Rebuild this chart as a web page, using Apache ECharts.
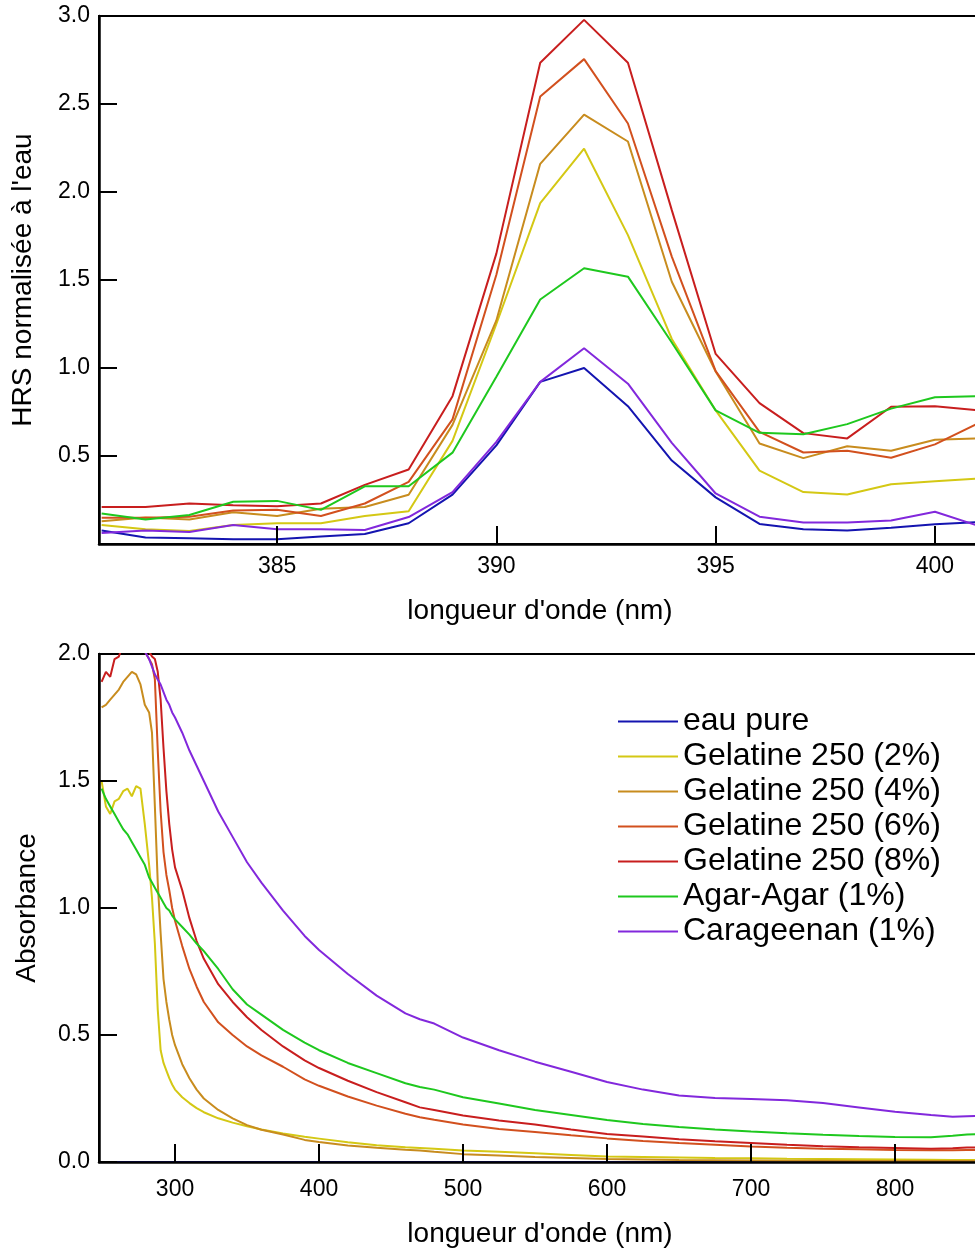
<!DOCTYPE html>
<html>
<head>
<meta charset="utf-8">
<script src="https://cdn.jsdelivr.net/npm/echarts@6/dist/echarts.min.js"></script>
<style>
html,body{margin:0;padding:0;background:#fff;}
#chart{width:975px;height:1249px;}
</style>
</head>
<body>
<div id="chart"></div>
<script>
// ---------- Top chart: HRS normalised to water ----------
const hrsWavelengths = [381,382,383,384,385,386,387,388,389,390,391,392,393,394,395,396,397,398,399,400,401];
const hrsEau   = [0.077,0.037,0.033,0.027,0.027,0.043,0.057,0.118,0.281,0.56,0.921,1.0,0.783,0.474,0.265,0.114,0.084,0.077,0.092,0.112,0.125];
const hrsGel2  = [0.108,0.084,0.074,0.108,0.118,0.118,0.159,0.186,0.586,1.25,1.937,2.246,1.755,1.165,0.759,0.417,0.295,0.281,0.34,0.356,0.372];
const hrsGel4  = [0.129,0.15,0.139,0.18,0.159,0.2,0.21,0.28,0.677,1.27,2.16,2.44,2.287,1.49,0.98,0.571,0.488,0.555,0.53,0.592,0.60];
const hrsGel6  = [0.149,0.149,0.155,0.19,0.194,0.159,0.23,0.353,0.708,1.53,2.543,2.755,2.389,1.633,0.982,0.637,0.52,0.53,0.49,0.566,0.688];
const hrsGel8  = [0.21,0.21,0.23,0.22,0.214,0.23,0.336,0.423,0.84,1.65,2.734,2.978,2.734,1.897,1.08,0.80,0.63,0.60,0.78,0.783,0.759];
const hrsAgar  = [0.173,0.139,0.165,0.24,0.245,0.194,0.328,0.328,0.519,0.95,1.389,1.567,1.519,1.145,0.759,0.632,0.624,0.681,0.769,0.834,0.84];
const hrsCarag = [0.063,0.077,0.068,0.108,0.084,0.084,0.08,0.153,0.295,0.58,0.921,1.112,0.911,0.575,0.287,0.155,0.122,0.122,0.134,0.183,0.102];
const hrsXTicks = [385,390,395,400];

// ---------- Bottom chart: absorbance ----------
const absWavelengths = [249,252,255,258,261,264,267,270,273,276,
  279,282,284,286,288,290,292,294,296,298,
  300,305,310,315,320,330,340,350,360,375,
  390,400,420,440,460,470,480,500,525,550,
  575,600,625,650,675,700,725,750,775,800,
  825,840,850,860];
const absEau = [0,0,0,0,0,0,0,0,0,0,
  0,0,0,0,0,0,0,0,0,0,
  0,0,0,0,0,0,0,0,0,0,
  0,0,0,0,0,0,0,0,0,0,
  0,0,0,0,0,0,0,0,0,0,
  0,0,0,0];
const absGel2 = [1.50,1.40,1.37,1.42,1.43,1.46,1.47,1.44,1.48,1.47,
  1.33,1.17,1.04,0.86,0.60,0.44,0.39,0.36,0.33,0.305,
  0.285,0.255,0.232,0.212,0.196,0.172,0.155,0.141,0.128,0.112,
  0.099,0.092,0.078,0.066,0.058,0.055,0.052,0.045,0.04,0.034,
  0.028,0.022,0.02,0.018,0.016,0.015,0.013,0.012,0.011,0.01,
  0.009,0.008,0.008,0.008];
const absGel4 = [1.79,1.80,1.82,1.84,1.86,1.89,1.91,1.93,1.92,1.88,
  1.80,1.77,1.69,1.40,1.10,0.90,0.72,0.63,0.56,0.50,
  0.46,0.385,0.33,0.285,0.25,0.205,0.172,0.145,0.127,0.108,
  0.087,0.079,0.065,0.056,0.048,0.045,0.04,0.031,0.026,0.02,
  0.016,0.012,0.01,0.008,0.007,0.006,0.005,0.005,0.004,0.004,
  0.004,0.004,0.004,0.004];
const absGel6 = [2.04,2.05,2.03,2.06,2.05,2.04,2.06,2.05,2.04,2.03,
  2.01,1.98,1.96,1.90,1.62,1.38,1.22,1.13,1.07,1.00,
  0.95,0.85,0.76,0.69,0.63,0.55,0.50,0.455,0.42,0.375,
  0.325,0.30,0.258,0.222,0.19,0.176,0.166,0.148,0.13,0.118,
  0.105,0.093,0.083,0.075,0.068,0.061,0.056,0.052,0.05,0.047,
  0.046,0.046,0.047,0.048];
const absGel8 = [1.89,1.93,1.91,1.98,1.99,2.04,2.06,2.05,2.06,2.05,
  2.03,2.01,1.99,1.98,1.93,1.82,1.63,1.46,1.33,1.23,
  1.16,1.07,0.96,0.87,0.80,0.70,0.63,0.57,0.52,0.455,
  0.40,0.37,0.32,0.275,0.235,0.215,0.205,0.183,0.163,0.148,
  0.128,0.11,0.10,0.09,0.082,0.075,0.068,0.062,0.058,0.055,
  0.052,0.054,0.057,0.058];
const absAgar = [1.47,1.43,1.40,1.37,1.34,1.31,1.29,1.26,1.23,1.20,
  1.17,1.12,1.10,1.08,1.06,1.04,1.02,1.00,0.99,0.97,
  0.955,0.925,0.895,0.86,0.83,0.76,0.68,0.62,0.58,0.52,
  0.47,0.44,0.39,0.35,0.31,0.295,0.285,0.255,0.23,0.205,
  0.185,0.165,0.15,0.138,0.128,0.12,0.113,0.107,0.102,0.098,
  0.097,0.103,0.108,0.11];
const absCarag = [null,null,null,null,null,null,null,null,null,2.06,
  2.01,1.98,1.95,1.92,1.90,1.88,1.85,1.82,1.80,1.77,
  1.75,1.69,1.62,1.56,1.50,1.38,1.28,1.18,1.10,0.99,
  0.89,0.835,0.74,0.655,0.585,0.562,0.545,0.49,0.44,0.395,
  0.355,0.315,0.285,0.262,0.252,0.248,0.243,0.232,0.215,0.198,
  0.185,0.178,0.18,0.182];
const absXTicks = [300,400,500,600,700,800];

const seriesNames = ['eau pure','Gelatine 250 (2%)','Gelatine 250 (4%)','Gelatine 250 (6%)','Gelatine 250 (8%)','Agar-Agar (1%)','Carageenan (1%)'];
const seriesColors = ['#1414b0','#d4c814','#c88c1e','#d2501e','#c81e1e','#1ec81e','#8228dc'];

const hrsSets = [hrsEau,hrsGel2,hrsGel4,hrsGel6,hrsGel8,hrsAgar,hrsCarag];
const absSets = [absEau,absGel2,absGel4,absGel6,absGel8,absAgar,absCarag];

const FONT = 'Liberation Sans, Arial, Helvetica, sans-serif';
const pair = (xs, ys) => xs.map((x,i) => [x, ys[i]]);

const series = [];
hrsSets.forEach((vals, k) => {
  series.push({
    name: seriesNames[k], type: 'line', xAxisIndex: 0, yAxisIndex: 0,
    data: pair(hrsWavelengths, vals), showSymbol: false, symbol: 'none',
    lineStyle: {color: seriesColors[k], width: 2}, itemStyle: {color: seriesColors[k]},
    animation: false, z: 2
  });
});
absSets.forEach((vals, k) => {
  series.push({
    name: seriesNames[k], type: 'line', xAxisIndex: 1, yAxisIndex: 1,
    data: pair(absWavelengths, vals), showSymbol: false, symbol: 'none',
    lineStyle: {color: seriesColors[k], width: 2}, itemStyle: {color: seriesColors[k]},
    animation: false, z: 2
  });
});

const axisLineStyle = {color: '#000', width: 2.5};
const tickStyle = {color: '#000', width: 2};

const option = {
  backgroundColor: '#fff',
  animation: false,
  textStyle: {fontFamily: FONT},
  grid: [
    {left: 99, top: 16, width: 882, height: 528, outerBoundsMode: 'none', containLabel: false,
     show: true, borderColor: '#000', borderWidth: 2, backgroundColor: 'transparent'},
    {left: 99, top: 654, width: 882, height: 508, outerBoundsMode: 'none', containLabel: false,
     show: true, borderColor: '#000', borderWidth: 2, backgroundColor: 'transparent'}
  ],
  legend: {
    data: seriesNames,
    orient: 'vertical',
    left: 618, top: 704,
    padding: 0,
    itemWidth: 60, itemHeight: 2, itemGap: 0,
    icon: 'rect',
    textStyle: {fontFamily: FONT, fontSize: 32, color: '#000', lineHeight: 35},
    selectedMode: false
  },
  xAxis: [
    {
      gridIndex: 0, type: 'value', min: 380.94, max: 401.05, z: 5,
      axisLine: {show: true, lineStyle: axisLineStyle},
      axisTick: {show: true, inside: true, length: 18, lineStyle: tickStyle, customValues: hrsXTicks},
      axisLabel: {customValues: hrsXTicks, color: '#000', fontSize: 23, margin: 11, fontFamily: FONT},
      splitLine: {show: false},
      name: "longueur d'onde (nm)", nameLocation: 'middle', nameGap: 53,
      nameTextStyle: {fontSize: 28, color: '#000', fontFamily: FONT}
    },
    {
      gridIndex: 1, type: 'value', min: 247.2, max: 859.7, z: 5,
      axisLine: {show: true, lineStyle: axisLineStyle},
      axisTick: {show: true, inside: true, length: 18, lineStyle: tickStyle, customValues: absXTicks},
      axisLabel: {customValues: absXTicks, color: '#000', fontSize: 23, margin: 16, fontFamily: FONT},
      splitLine: {show: false},
      name: "longueur d'onde (nm)", nameLocation: 'middle', nameGap: 58,
      nameTextStyle: {fontSize: 28, color: '#000', fontFamily: FONT}
    }
  ],
  yAxis: [
    {
      gridIndex: 0, type: 'value', min: 0, max: 3, interval: 0.5, z: 5,
      axisLine: {show: true, lineStyle: axisLineStyle},
      axisTick: {show: true, inside: true, length: 18, lineStyle: tickStyle},
      axisLabel: {color: '#000', fontSize: 23, margin: 9, fontFamily: FONT,
        formatter: v => (v === 0 ? '' : v.toFixed(1))},
      splitLine: {show: false},
      name: "HRS normalisée à l'eau", nameLocation: 'middle', nameGap: 62,
      nameTextStyle: {fontSize: 28, color: '#000', fontFamily: FONT}
    },
    {
      gridIndex: 1, type: 'value', min: 0, max: 2, interval: 0.5, z: 5,
      axisLine: {show: true, lineStyle: axisLineStyle},
      axisTick: {show: true, inside: true, length: 18, lineStyle: tickStyle},
      axisLabel: {color: '#000', fontSize: 23, margin: 9, fontFamily: FONT,
        formatter: v => v.toFixed(1)},
      splitLine: {show: false},
      name: 'Absorbance', nameLocation: 'middle', nameGap: 58,
      nameTextStyle: {fontSize: 28, color: '#000', fontFamily: FONT}
    }
  ],
  series: series
};

const chart = echarts.init(document.getElementById('chart'), null, {renderer: 'canvas'});
chart.setOption(option);
</script>
</body>
</html>
